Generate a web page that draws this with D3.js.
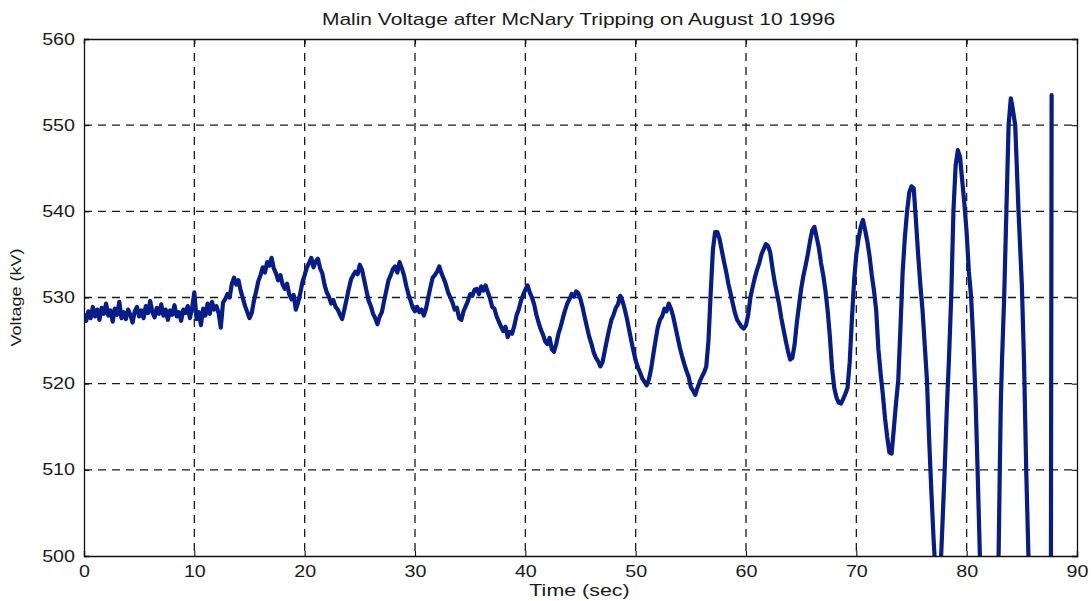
<!DOCTYPE html>
<html>
<head>
<meta charset="utf-8">
<script src="https://cdn.jsdelivr.net/npm/d3@7"></script>
<style>
  html, body { margin: 0; padding: 0; background: #fff; }
  svg { display: block; }
  text { font-family: "Liberation Sans", Arial, Helvetica, sans-serif; fill: #1a1a1a; }
</style>
</head>
<body>
<svg id="chart" width="1091" height="601"></svg>
<script>
// Malin 500 kV bus voltage record, August 10 1996
const chartTitle = "Malin Voltage after McNary Tripping on August 10 1996";
const xLabel = "Time (sec)";
const yLabel = "Voltage (kV)";
const xTicks = [0, 10, 20, 30, 40, 50, 60, 70, 80, 90];
const yTicks = [500, 510, 520, 530, 540, 550, 560];

const timeSec = [
  0.0, 0.2, 0.4, 0.6, 0.8, 1.0, 1.2, 1.4, 1.6, 1.8,
  2.0, 2.2, 2.4, 2.6, 2.8, 3.0, 3.2, 3.4, 3.6, 3.8,
  4.0, 4.2, 4.4, 4.6, 4.8, 5.0, 5.2, 5.4, 5.6, 5.8,
  6.0, 6.2, 6.4, 6.6, 6.8, 7.0, 7.2, 7.4, 7.6, 7.8,
  8.0, 8.2, 8.4, 8.6, 8.8, 9.0, 9.2, 9.4, 9.6, 9.8,
  10.0, 10.2, 10.4, 10.6, 10.8, 11.0, 11.2, 11.4, 11.6, 11.8,
  12.0, 12.2, 12.4, 12.6, 12.8, 13.0, 13.2, 13.4, 13.6, 13.8,
  14.0, 14.2, 14.4, 14.6, 14.8, 15.0, 15.2, 15.4, 15.6, 15.8,
  16.0, 16.2, 16.4, 16.6, 16.8, 17.0, 17.2, 17.4, 17.6, 17.8,
  18.0, 18.2, 18.4, 18.6, 18.8, 19.0, 19.2, 19.4, 19.6, 19.8,
  20.0, 20.2, 20.4, 20.6, 20.8, 21.0, 21.2, 21.4, 21.6, 21.8,
  22.0, 22.2, 22.4, 22.6, 22.8, 23.0, 23.2, 23.4, 23.6, 23.8,
  24.0, 24.2, 24.4, 24.6, 24.8, 25.0, 25.2, 25.4, 25.6, 25.8,
  26.0, 26.2, 26.4, 26.6, 26.8, 27.0, 27.2, 27.4, 27.6, 27.8,
  28.0, 28.2, 28.4, 28.6, 28.8, 29.0, 29.2, 29.4, 29.6, 29.8,
  30.0, 30.2, 30.4, 30.6, 30.8, 31.0, 31.2, 31.4, 31.6, 31.8,
  32.0, 32.2, 32.4, 32.6, 32.8, 33.0, 33.2, 33.4, 33.6, 33.8,
  34.0, 34.2, 34.4, 34.6, 34.8, 35.0, 35.2, 35.4, 35.6, 35.8,
  36.0, 36.2, 36.4, 36.6, 36.8, 37.0, 37.2, 37.4, 37.6, 37.8,
  38.0, 38.2, 38.4, 38.6, 38.8, 39.0, 39.2, 39.4, 39.6, 39.8,
  40.0, 40.2, 40.4, 40.6, 40.8, 41.0, 41.2, 41.4, 41.6, 41.8,
  42.0, 42.2, 42.4, 42.6, 42.8, 43.0, 43.2, 43.4, 43.6, 43.8,
  44.0, 44.2, 44.4, 44.6, 44.8, 45.0, 45.2, 45.4, 45.6, 45.8,
  46.0, 46.2, 46.4, 46.6, 46.8, 47.0, 47.2, 47.4, 47.6, 47.8,
  48.0, 48.2, 48.4, 48.6, 48.8, 49.0, 49.2, 49.4, 49.6, 49.8,
  50.0, 50.2, 50.4, 50.6, 50.8, 51.0, 51.2, 51.4, 51.6, 51.8,
  52.0, 52.2, 52.4, 52.6, 52.8, 53.0, 53.2, 53.4, 53.6, 53.8,
  54.0, 54.2, 54.4, 54.6, 54.8, 55.0, 55.2, 55.4, 55.6, 55.8,
  56.0, 56.2, 56.4, 56.6, 56.8, 57.0, 57.2, 57.4, 57.6, 57.8,
  58.0, 58.2, 58.4, 58.6, 58.8, 59.0, 59.2, 59.4, 59.6, 59.8,
  60.0, 60.2, 60.4, 60.6, 60.8, 61.0, 61.2, 61.4, 61.6, 61.8,
  62.0, 62.2, 62.4, 62.6, 62.8, 63.0, 63.2, 63.4, 63.6, 63.8,
  64.0, 64.2, 64.4, 64.6, 64.8, 65.0, 65.2, 65.4, 65.6, 65.8,
  66.0, 66.2, 66.4, 66.6, 66.8, 67.0, 67.2, 67.4, 67.6, 67.8,
  68.0, 68.2, 68.4, 68.6, 68.8, 69.0, 69.2, 69.4, 69.6, 69.8,
  70.0, 70.2, 70.4, 70.6, 70.8, 71.0, 71.2, 71.4, 71.6, 71.8,
  72.0, 72.2, 72.4, 72.6, 72.8, 73.0, 73.2, 73.4, 73.6, 73.8,
  74.0, 74.2, 74.4, 74.6, 74.8, 75.0, 75.2, 75.4, 75.6, 75.8,
  76.0, 76.2, 76.4, 76.6, 76.8, 77.0, 77.2, 77.4, 77.6, 77.8,
  78.0, 78.2, 78.4, 78.6, 78.8, 79.0, 79.2, 79.4, 79.6, 79.8,
  80.0, 80.2, 80.4, 80.6, 80.8, 81.0, 81.2, 81.4, 81.6, 82.0,
  82.4, 82.8, 82.9, 83.0, 83.1, 83.2, 83.4, 83.6, 83.8, 84.0,
  84.1, 84.4, 84.7, 85.0, 85.2, 85.4, 85.6, 85.8, 86.4, 87.0,
  87.62, 87.7
];

const voltageKV = [
  528.0, 527.3, 528.4, 527.6, 528.9, 527.8, 528.6, 527.4, 528.8, 528.1,
  529.3, 527.9, 528.5, 527.2, 528.7, 528.0, 529.5, 527.6, 528.3, 527.5,
  528.6, 528.0, 527.1, 528.4, 528.9, 527.8, 528.5, 527.6, 529.0, 528.2,
  529.6, 528.3, 527.7, 528.8, 528.1, 529.2, 527.9, 528.6, 527.4, 528.5,
  528.0, 529.1, 527.8, 528.3, 527.3, 528.6, 528.2, 529.0, 527.6, 528.8,
  530.6, 527.5, 528.3, 526.8, 528.7, 527.9, 529.3, 528.1, 529.5, 528.6,
  529.0, 528.2, 526.5, 529.4, 529.8, 530.4, 530.0, 531.6, 532.3, 531.5,
  532.0, 530.8, 529.9, 529.0, 528.3, 527.6, 528.2, 529.6, 530.7, 531.9,
  532.6, 533.5, 532.9, 534.1, 533.7, 534.6, 533.4, 532.8, 532.0, 532.6,
  531.5, 531.0, 531.6, 530.4, 529.8, 530.3, 528.6, 529.4, 530.5, 531.8,
  532.6, 533.5, 534.0, 534.6, 533.5, 534.2, 534.5, 533.4, 532.8, 531.5,
  530.6, 530.1, 529.3, 529.7, 528.9, 528.6, 528.0, 527.5, 528.6, 529.8,
  531.0, 532.1, 532.6, 533.0, 532.7, 533.8, 533.2, 532.0, 530.8, 529.6,
  529.0, 528.1, 527.6, 526.9, 527.8, 528.3, 529.6, 530.8, 532.0, 532.6,
  533.3, 533.6, 532.9, 534.1, 533.4, 532.6, 531.4, 530.4, 529.6, 528.8,
  528.4, 528.9, 528.3, 528.6, 527.9, 528.7, 530.0, 531.2, 532.3, 532.6,
  533.0, 533.6, 532.8, 532.2, 531.5, 530.6, 530.0, 529.4, 528.6, 528.8,
  527.6, 527.4, 528.4, 529.0, 529.6, 530.4, 530.2, 530.9, 531.0, 530.4,
  531.3, 530.8, 531.4, 530.6, 529.9, 528.9, 528.7, 527.8, 527.2, 526.6,
  526.1, 526.6, 525.4, 526.0, 525.8, 526.7, 527.9, 528.6, 529.6, 530.3,
  530.9, 531.4, 530.6, 530.0, 529.2, 528.0, 527.1, 526.3, 525.7, 524.9,
  524.6, 525.3, 524.0, 523.7, 524.6, 525.8, 526.6, 527.6, 528.5, 529.3,
  529.8, 530.4, 530.1, 530.7, 530.5, 529.8, 528.8, 527.6, 526.5, 525.4,
  524.6, 523.6, 523.0, 522.6, 522.0, 522.5, 523.8, 525.1, 526.3, 527.4,
  528.0, 528.8, 529.2, 530.2, 529.6, 528.7, 527.6, 526.3, 525.0, 523.8,
  522.7, 521.9, 521.3, 520.6, 520.2, 519.8, 520.5, 521.7, 523.4, 525.0,
  526.5, 527.4, 527.8, 528.7, 528.4, 529.3, 528.7, 527.8, 526.6, 525.4,
  524.2, 523.2, 522.3, 521.5, 520.8, 519.6, 519.2, 518.7, 519.5, 520.2,
  520.8, 521.3, 522.0, 525.0, 530.5, 535.5, 537.6, 537.6, 536.8, 535.5,
  534.2, 533.0, 531.6, 530.5, 529.3, 528.2, 527.4, 527.0, 526.6, 526.4,
  526.8, 528.0, 530.0, 531.2, 532.3, 533.2, 534.0, 535.0, 535.6, 536.2,
  536.0, 535.2, 533.4, 531.8, 530.5, 529.2, 527.6, 526.3, 525.0, 523.8,
  522.8, 523.0, 524.5, 527.0, 529.0, 531.0, 532.5, 533.7, 535.0, 536.5,
  537.8, 538.2, 537.0, 535.8, 534.0, 532.6, 530.8, 528.5, 525.5, 521.8,
  519.5, 518.4, 517.8, 517.7, 518.2, 518.8, 519.5, 522.5, 527.5, 532.0,
  535.0, 536.8, 538.2, 539.0, 537.8, 536.5, 534.8, 532.6, 530.8, 528.5,
  524.0, 521.2, 518.8, 516.0, 513.8, 512.0, 511.9, 514.8, 517.8, 520.4,
  526.5, 533.0, 537.0, 540.0, 542.2, 542.9, 542.7, 539.0, 535.0, 531.5,
  528.5, 524.5, 520.4, 513.5, 507.5, 502.0, 497.5, 495.0, 497.5, 503.5,
  509.8, 517.0, 523.0, 530.1, 540.0, 545.3, 547.1, 546.3, 543.5, 540.8,
  537.5, 533.0, 530.1, 525.0, 518.5, 509.5, 500.0, 493.0, 489.0, 487.0,
  489.0, 496.0, 500.5, 509.8, 518.0, 522.5, 530.1, 540.0, 550.0, 553.1,
  552.5, 550.0, 540.0, 531.5, 522.5, 509.8, 500.0, 490.0, 480.0, 482.0,
  485.0, 553.5
];

const W = 1091, H = 601;
const margin = { left: 84, top: 39, right: 14, bottom: 45 };
const plotW = W - margin.left - margin.right;
const plotH = H - margin.top - margin.bottom;
const textStretch = 1.23;   // wide lettering of the printed figure

const svg = d3.select("#chart");

const x = d3.scaleLinear().domain([0, 90]).range([0, plotW]);
const y = d3.scaleLinear().domain([500, 560]).range([plotH, 0]);

const g = svg.append("g").attr("transform", `translate(${margin.left},${margin.top})`);

// clip so the oscillations below 500 kV are cut at the axis
svg.append("defs").append("clipPath").attr("id", "plot-clip")
  .append("rect").attr("width", plotW).attr("height", plotH);

// dashed grid
const grid = g.append("g").attr("class", "grid");
grid.selectAll("line.vx").data(xTicks.slice(1, -1)).enter().append("line")
  .attr("x1", d => x(d)).attr("x2", d => x(d))
  .attr("y1", 0).attr("y2", plotH)
  .attr("stroke", "#1a1a1a").attr("stroke-width", 1.3).attr("stroke-dasharray", "8,6");
grid.selectAll("line.hy").data(yTicks.slice(1, -1)).enter().append("line")
  .attr("y1", d => y(d)).attr("y2", d => y(d))
  .attr("x1", 0).attr("x2", plotW)
  .attr("stroke", "#1a1a1a").attr("stroke-width", 1.3).attr("stroke-dasharray", "8,6");

// voltage trace
const samples = timeSec.map((t, i) => ({ t, v: voltageKV[i] }));
const line = d3.line().x(d => x(d.t)).y(d => y(d.v));
g.append("path")
  .datum(samples)
  .attr("clip-path", "url(#plot-clip)")
  .attr("fill", "none")
  .attr("stroke", "#061c88")
  .attr("stroke-width", 4.2)
  .attr("stroke-linejoin", "round")
  .attr("stroke-linecap", "round")
  .attr("d", line);

// axes with inward ticks on all four sides
const tickLen = 5;
const axisBottom = d3.axisBottom(x).tickValues(xTicks).tickSize(-tickLen).tickPadding(10).tickFormat(d3.format("d"));
const axisLeft = d3.axisLeft(y).tickValues(yTicks).tickSize(-tickLen).tickPadding(9).tickFormat(d3.format("d"));
const axisTop = d3.axisTop(x).tickValues(xTicks).tickSize(-tickLen).tickFormat("");
const axisRight = d3.axisRight(y).tickValues(yTicks).tickSize(-tickLen).tickFormat("");

function styleAxis(sel) {
  sel.selectAll("path.domain").attr("stroke", "#111").attr("stroke-width", 1.3);
  sel.selectAll(".tick line").attr("stroke", "#111").attr("stroke-width", 1.1);
  sel.selectAll("text").attr("font-size", 16).attr("fill", "#1a1a1a")
    .attr("font-family", '"Liberation Sans", Arial, sans-serif')
    .each(function () {
      // widen each label around its anchor point
      const t = d3.select(this);
      const tx = +t.attr("x") || 0;
      t.attr("x", 0).attr("transform", `translate(${tx},0) scale(${textStretch},1)`);
    });
}

g.append("g").attr("transform", `translate(0,${plotH})`).call(axisBottom).call(styleAxis);
g.append("g").call(axisLeft).call(styleAxis);
g.append("g").call(axisTop).call(styleAxis);
g.append("g").attr("transform", `translate(${plotW},0)`).call(axisRight).call(styleAxis);

// title and axis labels
svg.append("text")
  .attr("transform", `translate(${margin.left + plotW / 2 - 2},25) scale(1.25,1)`)
  .attr("text-anchor", "middle").attr("font-size", 16.8)
  .text(chartTitle);

svg.append("text")
  .attr("transform", `translate(${margin.left + plotW / 2 - 1},596) scale(1.26,1)`)
  .attr("text-anchor", "middle").attr("font-size", 17)
  .text(xLabel);

svg.append("text")
  .attr("transform", `translate(21,${margin.top + plotH / 2}) rotate(-90) scale(1.2,1)`)
  .attr("text-anchor", "middle").attr("font-size", 15)
  .text(yLabel);
</script>
</body>
</html>
